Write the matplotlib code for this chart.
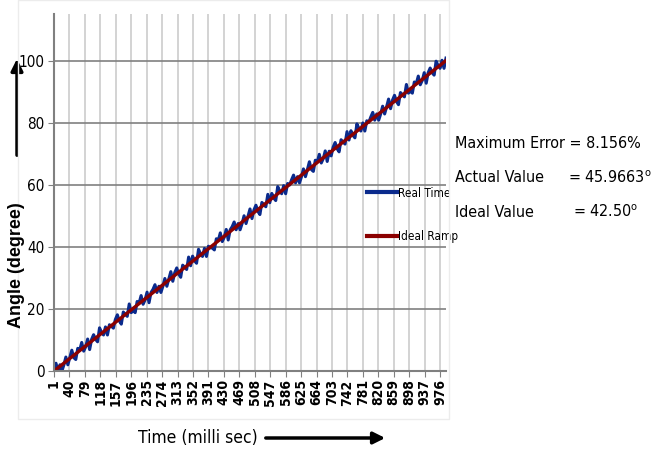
import numpy as np
import matplotlib
matplotlib.use("Agg")
from matplotlib import pyplot as plt
from matplotlib.patches import Rectangle

plt.rcParams['font.family'] = ['DejaVu Sans']
plt.rcParams['font.stretch'] = 'condensed'
plt.rcParams['mathtext.default'] = 'regular'

# sampled real time angle, every 5 ms
real_time = np.arange(1, 992, 5)
real_angle = [
    1.0, 2.5, 0.0, 2.0, 0.0, 2.0, 4.5, 2.0, 4.3, 6.7,
    4.3, 3.7, 7.3, 6.8, 9.2, 6.4, 7.8, 10.3, 6.9, 10.2,
    11.7, 10.2, 9.4, 13.9, 12.5, 11.6, 14.2, 11.6, 14.9, 14.4,
    13.8, 16.6, 18.1, 16.1, 15.1, 19.0, 18.3, 17.6, 21.6, 18.8,
    19.4, 18.8, 22.4, 21.9, 24.3, 21.5, 22.9, 25.4, 22.0, 25.3,
    26.3, 27.8, 25.3, 27.3, 25.3, 27.3, 29.8, 27.3, 29.6, 32.0,
    28.9, 31.7, 33.2, 31.2, 30.2, 34.1, 33.4, 32.7, 36.7, 33.9,
    37.0, 35.5, 34.7, 39.2, 37.8, 36.9, 39.5, 36.9, 40.2, 39.7,
    39.6, 39.0, 42.6, 42.1, 44.5, 41.7, 43.1, 45.6, 42.2, 45.5,
    46.5, 48.0, 45.5, 47.5, 45.5, 47.5, 50.0, 47.5, 49.8, 52.2,
    49.1, 51.9, 53.4, 51.4, 50.4, 54.3, 53.6, 52.9, 56.9, 54.2,
    57.2, 55.7, 54.9, 59.4, 58.0, 57.1, 59.7, 57.1, 60.4, 59.9,
    61.6, 63.1, 60.6, 62.6, 60.6, 62.6, 65.1, 62.6, 64.9, 67.4,
    64.9, 64.3, 67.9, 67.4, 69.8, 67.0, 68.4, 70.9, 67.5, 70.8,
    69.3, 72.1, 73.6, 71.6, 70.6, 74.5, 73.8, 73.1, 77.1, 74.4,
    77.4, 75.9, 75.1, 79.6, 78.2, 77.3, 79.9, 77.3, 80.6, 80.1,
    81.8, 83.3, 80.8, 82.8, 80.8, 82.8, 85.3, 82.8, 85.1, 87.6,
    84.5, 87.3, 88.8, 86.8, 85.8, 89.7, 89.0, 88.3, 92.3, 89.5,
    90.1, 89.5, 93.1, 92.6, 95.0, 92.2, 93.6, 96.1, 92.7, 96.1,
    97.6, 96.1, 95.3, 99.8, 98.4, 97.5, 100.1, 97.5, 100.8,
]

# ideal ramp end points
ramp_time = [1, 991]
ramp_angle = [0, 100]

x_ticks = list(range(1, 990, 39))
y_ticks = [0, 20, 40, 60, 80, 100]

fig = plt.figure(figsize=(6.52, 4.49), dpi=100)
ax = fig.add_axes([54 / 652, 1 - 371 / 449, 392 / 652, 357 / 449])

# chart area border
fig.patches.append(Rectangle((18 / 652, 1 - 419 / 449), 431 / 652, 419 / 449,
                             transform=fig.transFigure, fill=False,
                             edgecolor="#ececec", lw=1))

ax.plot(real_time, real_angle, color="#0a2a8c", lw=2.2, label="Real Time")
ax.plot(ramp_time, ramp_angle, color="#8b0000", lw=2.4, label="Ideal Ramp")

ax.set_xlim(1, 991)
ax.set_ylim(0, 115)
ax.set_xticks(x_ticks)
ax.set_xticklabels([str(v) for v in x_ticks], rotation=90, fontweight="bold",
                   fontsize=10)
ax.set_yticks(y_ticks)
ax.tick_params(axis="y", labelsize=11, length=4, color="#808080", pad=3)
ax.tick_params(axis="x", length=4, color="#808080", pad=2)

ax.grid(axis="y", color="#808080", lw=1.2)
ax.grid(axis="x", color="#cccccc", lw=1.2)
ax.set_axisbelow(True)
for s in ["top", "right"]:
    ax.spines[s].set_visible(False)
for s in ["left", "bottom"]:
    ax.spines[s].set_color("#808080")
    ax.spines[s].set_linewidth(1.5)

leg = ax.legend(loc="upper left", bbox_to_anchor=(356 / 652, 1 - 176 / 449),
                bbox_transform=fig.transFigure, frameon=False, fontsize=8.5,
                handlelength=2.6, handletextpad=0.1, labelspacing=2.6)
for h in leg.get_lines():
    h.set_linewidth(3)

# axis titles with arrows
fig.text(17 / 652, 1 - 265 / 449, "Angle (degree)", rotation=90, ha="center",
         va="center", fontsize=13, fontweight="bold",
         family=["Liberation Sans", "DejaVu Sans"], stretch="normal")
fig.text(198 / 652, 1 - 438 / 449, "Time (milli sec)", ha="center", va="center",
         fontsize=12.5)
ax.annotate("", xy=(17 / 652, 1 - 56 / 449), xytext=(17 / 652, 1 - 158 / 449),
            xycoords="figure fraction", textcoords="figure fraction",
            arrowprops=dict(arrowstyle="-|>,head_length=0.7,head_width=0.35",
                            color="black", lw=2.5))
ax.annotate("", xy=(388 / 652, 1 - 438 / 449), xytext=(263 / 652, 1 - 438 / 449),
            xycoords="figure fraction", textcoords="figure fraction",
            arrowprops=dict(arrowstyle="-|>,head_length=0.7,head_width=0.35",
                            color="black", lw=2.5))

# result texts
fig.text(455 / 652, 1 - 143 / 449, "Maximum Error = 8.156%", ha="left",
         va="center", fontsize=11.5)
fig.text(455 / 652, 1 - 178 / 449, "Actual Value", ha="left", va="center",
         fontsize=11.5)
fig.text(568 / 652, 1 - 178 / 449, "= 45.9663$^{o}$", ha="left", va="center",
         fontsize=11.5)
fig.text(455 / 652, 1 - 212 / 449, "Ideal Value", ha="left", va="center",
         fontsize=11.5)
fig.text(573 / 652, 1 - 212 / 449, "= 42.50$^{o}$", ha="left", va="center",
         fontsize=11.5)

fig.savefig("out.png", dpi=100)
